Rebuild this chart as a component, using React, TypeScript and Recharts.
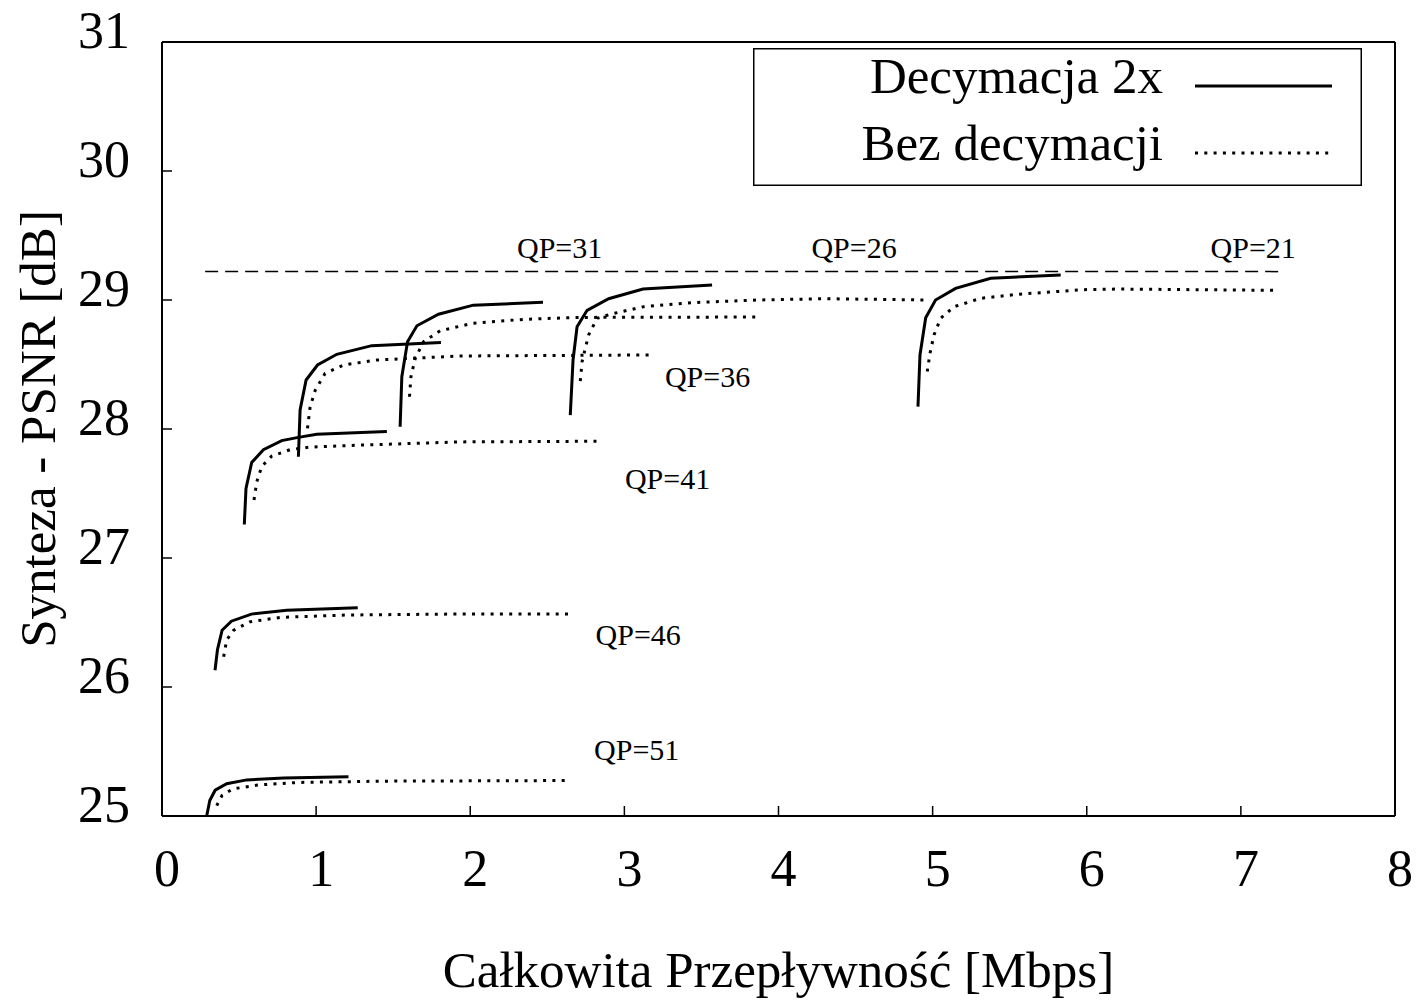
import { LineChart, Line, XAxis, YAxis, Legend, ReferenceDot } from 'recharts';

const FONT = '"Liberation Serif", "Times New Roman", Times, serif';
const INK = '#000';

const xTicks = [0, 1, 2, 3, 4, 5, 6, 7, 8];
const yTicks = [25, 26, 27, 28, 29, 30, 31];

// [Mbps, dB] — Decymacja 2x
const dec51 = [[0.29, 25.0], [0.31, 25.12], [0.345, 25.2], [0.42, 25.25], [0.55, 25.28], [0.79, 25.295], [1.21, 25.305]];
const dec46 = [[0.344, 26.13], [0.36, 26.29], [0.39, 26.44], [0.45, 26.51], [0.58, 26.565], [0.81, 26.595], [1.27, 26.615]];
const dec41 = [[0.534, 27.26], [0.545, 27.54], [0.582, 27.74], [0.658, 27.84], [0.777, 27.91], [0.885, 27.935], [1.004, 27.96], [1.459, 27.98]];
const dec36 = [[0.885, 27.785], [0.896, 28.147], [0.935, 28.38], [1.009, 28.496], [1.134, 28.579], [1.361, 28.646], [1.81, 28.67]];
const dec31 = [[1.545, 28.018], [1.556, 28.405], [1.593, 28.677], [1.654, 28.8], [1.794, 28.89], [2.02, 28.96], [2.472, 28.982]];
const dec26 = [[2.649, 28.108], [2.667, 28.535], [2.693, 28.793], [2.758, 28.92], [2.898, 29.01], [3.121, 29.085], [3.569, 29.116]];
const dec21 = [[4.905, 28.173], [4.918, 28.574], [4.955, 28.863], [5.019, 29.0], [5.149, 29.09], [5.377, 29.168], [5.831, 29.194]];

// [Mbps, dB] — Bez decymacji
const ref51 = [[0.355, 25.08], [0.39, 25.16], [0.46, 25.21], [0.62, 25.24], [0.88, 25.26], [1.42, 25.27], [2.62, 25.275]];
const ref46 = [[0.4, 26.235], [0.42, 26.365], [0.465, 26.44], [0.57, 26.505], [0.77, 26.54], [1.2, 26.558], [1.85, 26.565], [2.66, 26.566]];
const ref41 = [[0.597, 27.45], [0.615, 27.59], [0.647, 27.71], [0.712, 27.79], [0.831, 27.84], [0.961, 27.86], [1.31, 27.876], [1.935, 27.9], [2.84, 27.905]];
const ref36 = [[0.944, 28.005], [0.961, 28.17], [0.994, 28.3], [1.058, 28.43], [1.177, 28.496], [1.394, 28.535], [1.935, 28.566], [3.18, 28.574]];
const ref31 = [[1.606, 28.25], [1.615, 28.405], [1.643, 28.548], [1.697, 28.677], [1.805, 28.762], [2.02, 28.82], [2.346, 28.85], [2.69, 28.865], [3.86, 28.868]];
const ref26 = [[2.714, 28.372], [2.725, 28.52], [2.768, 28.729], [2.823, 28.858], [2.909, 28.89], [3.125, 28.948], [3.45, 28.98], [3.86, 29.0], [4.3, 29.01], [4.97, 29.0]];
const ref21 = [[4.965, 28.445], [4.983, 28.587], [5.009, 28.729], [5.052, 28.858], [5.139, 28.948], [5.312, 29.013], [5.55, 29.044], [5.98, 29.08], [6.2, 29.085], [7.21, 29.075]];

const limitLine = [[0.28, 29.22], [7.25, 29.22]];

const qpLabels = [
  { text: 'QP=31', rate: 2.58, psnr: 29.41 },
  { text: 'QP=26', rate: 4.49, psnr: 29.41 },
  { text: 'QP=21', rate: 7.08, psnr: 29.41 },
  { text: 'QP=36', rate: 3.54, psnr: 28.41 },
  { text: 'QP=41', rate: 3.28, psnr: 27.62 },
  { text: 'QP=46', rate: 3.09, psnr: 26.41 },
  { text: 'QP=51', rate: 3.08, psnr: 25.52 },
];

const decCurves = [dec51, dec46, dec41, dec36, dec31, dec26, dec21];
const refCurves = [ref51, ref46, ref41, ref36, ref31, ref26, ref21];

const toPoints = (pairs: number[][]) => pairs.map(([x, y]) => ({ x, y }));

function LegendBox() {
  return (
    <svg width={609} height={138} style={{ display: 'block', overflow: 'visible' }}>
      <rect x={0.75} y={0.75} width={607.5} height={136.5} fill="#fff" stroke={INK} strokeWidth={1.5} />
      <text x={410} y={45} textAnchor="end" fontFamily={FONT} fontSize={51} fill={INK}>Decymacja 2x</text>
      <line x1={442} x2={579} y1={38} y2={38} stroke={INK} strokeWidth={3} />
      <text x={410} y={112} textAnchor="end" fontFamily={FONT} fontSize={51} fill={INK}>Bez decymacji</text>
      <line x1={442} x2={579} y1={105} y2={105} stroke={INK} strokeWidth={3} strokeDasharray="3 6.3" />
    </svg>
  );
}

export default function App() {
  const tickStyle = { fontSize: 52, fontFamily: FONT, fill: INK };
  return (
    <div style={{ position: 'absolute', left: 0, top: 0, width: 1420, height: 1001, background: '#fff' }}>
      <LineChart width={1420} height={1001} margin={{ top: 41, right: 24, bottom: 0, left: 0 }}>
        <XAxis
          dataKey="x"
          type="number"
          domain={[0, 8]}
          ticks={xTicks}
          height={185}
          tickSize={-10}
          tickMargin={43}
          tick={{ ...tickStyle, dx: 5 }}
          axisLine={{ stroke: INK, strokeWidth: 2 }}
          tickLine={{ stroke: INK, strokeWidth: 1.5 }}
          label={{ value: 'Całkowita Przepływność [Mbps]', position: 'insideBottom', offset: 14, fontSize: 51, fontFamily: FONT, fill: INK }}
        />
        <XAxis
          xAxisId="top"
          orientation="top"
          type="number"
          domain={[0, 8]}
          ticks={xTicks}
          height={1}
          tickSize={-10}
          tick={false}
          axisLine={{ stroke: INK, strokeWidth: 2 }}
          tickLine={{ stroke: INK, strokeWidth: 1.5 }}
        />
        <YAxis
          type="number"
          domain={[25, 31]}
          ticks={yTicks}
          width={162}
          tickSize={-10}
          tickMargin={42}
          tick={{ ...tickStyle, dy: -12 }}
          axisLine={{ stroke: INK, strokeWidth: 2 }}
          tickLine={{ stroke: INK, strokeWidth: 1.5 }}
          label={{ value: 'Synteza - PSNR [dB]', angle: -90, position: 'insideLeft', offset: 37, fontSize: 51, fontFamily: FONT, fill: INK, style: { textAnchor: 'middle' } }}
        />
        <YAxis
          yAxisId="right"
          orientation="right"
          type="number"
          domain={[25, 31]}
          ticks={yTicks}
          width={1}
          tickSize={-10}
          tick={false}
          axisLine={{ stroke: INK, strokeWidth: 2 }}
          tickLine={{ stroke: INK, strokeWidth: 1.5 }}
        />
        <Legend
          content={() => <LegendBox />}
          layout="horizontal"
          verticalAlign="middle"
          align="center"
          wrapperStyle={{ left: 753, top: 48, width: 609, height: 138 }}
        />
        <Line
          data={toPoints(limitLine)}
          dataKey="y"
          type="linear"
          stroke={INK}
          strokeWidth={1.5}
          strokeDasharray="13 7"
          dot={false}
          legendType="none"
          isAnimationActive={false}
        />
        {refCurves.map((c, i) => (
          <Line
            key={`ref-${i}`}
            data={toPoints(c)}
            dataKey="y"
            type="linear"
            stroke={INK}
            strokeWidth={3}
            strokeDasharray="3 6.3"
            dot={false}
            name="Bez decymacji"
            isAnimationActive={false}
          />
        ))}
        {decCurves.map((c, i) => (
          <Line
            key={`dec-${i}`}
            data={toPoints(c)}
            dataKey="y"
            type="linear"
            stroke={INK}
            strokeWidth={3}
            dot={false}
            name="Decymacja 2x"
            isAnimationActive={false}
          />
        ))}
        {qpLabels.map((l) => (
          <ReferenceDot
            key={l.text}
            x={l.rate}
            y={l.psnr}
            r={0}
            fill="none"
            stroke="none"
            ifOverflow="visible"
            label={{ value: l.text, position: 'center', fontSize: 30, fontFamily: FONT, fill: INK }}
          />
        ))}
      </LineChart>
    </div>
  );
}
